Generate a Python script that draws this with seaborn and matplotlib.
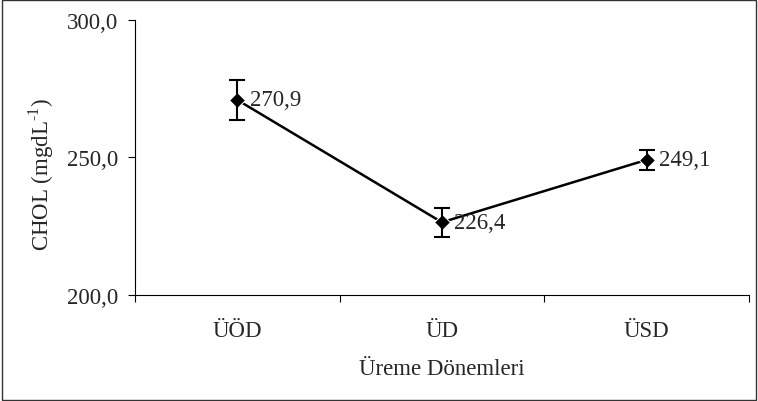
import matplotlib
matplotlib.use("Agg")
import matplotlib.pyplot as plt
import matplotlib.ticker as mticker
from matplotlib.patches import Rectangle
import seaborn as sns
import pandas as pd

# Data
periods = ['ÜÖD', 'ÜD', 'ÜSD']
chol = [270.9, 226.4, 249.1]
chol_err = [7.3, 5.3, 3.7]

sns.set_style("white")
plt.rcParams['font.family'] = ['Liberation Serif', 'DejaVu Serif']
plt.rcParams['mathtext.fontset'] = 'custom'
plt.rcParams['mathtext.rm'] = 'Liberation Serif'

FS = 16.5

df = pd.DataFrame({'period': periods, 'chol': chol})

fig = plt.figure(figsize=(7.58, 4.02), dpi=100)
ax = fig.add_axes([0.178, 0.264, 0.81, 0.684])

sns.lineplot(data=df, x='period', y='chol', sort=False, color='black',
             linewidth=1.8, marker='D', markersize=8, ax=ax)
ax.errorbar(range(len(periods)), chol, yerr=chol_err, fmt='none',
            ecolor='black', elinewidth=1.5, capsize=6, capthick=1.5)

for i, v in enumerate(chol):
    ax.annotate(f'{v:.1f}'.replace('.', ','), (i, v), xytext=(9, 0),
                textcoords='offset points', va='center', ha='left', fontsize=FS)

ax.set_ylim(200, 300)
ax.set_xlim(-0.5, 2.5)
ax.yaxis.set_major_locator(mticker.MultipleLocator(50))
ax.yaxis.set_major_formatter(mticker.FuncFormatter(
    lambda v, p: f'{v:.1f}'.replace('.', ',')))
ax.set_xticks(range(len(periods)))
ax.set_xticklabels(periods)
ax.set_xticks([-0.5, 0.5, 1.5, 2.5], minor=True)
ax.tick_params(axis='x', which='major', length=0, labelsize=FS, pad=18)
ax.tick_params(axis='x', which='minor', length=5, width=0.8, color='black',
               direction='out', bottom=True)
ax.tick_params(axis='y', length=5, width=0.8, color='black', direction='out',
               left=True, labelsize=FS, pad=7)

for s in ['top', 'right']:
    ax.spines[s].set_visible(False)
for s in ['left', 'bottom']:
    ax.spines[s].set_color('black')
    ax.spines[s].set_linewidth(0.8)

ax.set_xlabel('Üreme Dönemleri', fontsize=FS, labelpad=12)
ax.set_ylabel(r'CHOL (mgdL$^{\text{-1}}$)', fontsize=FS)
ax.yaxis.set_label_coords(-0.128, 0.44)

fig.patches.append(Rectangle((0.002, 0.003), 0.996, 0.994, transform=fig.transFigure,
                             fill=False, edgecolor='#333333', linewidth=1))

fig.savefig('out.png', dpi=100)
